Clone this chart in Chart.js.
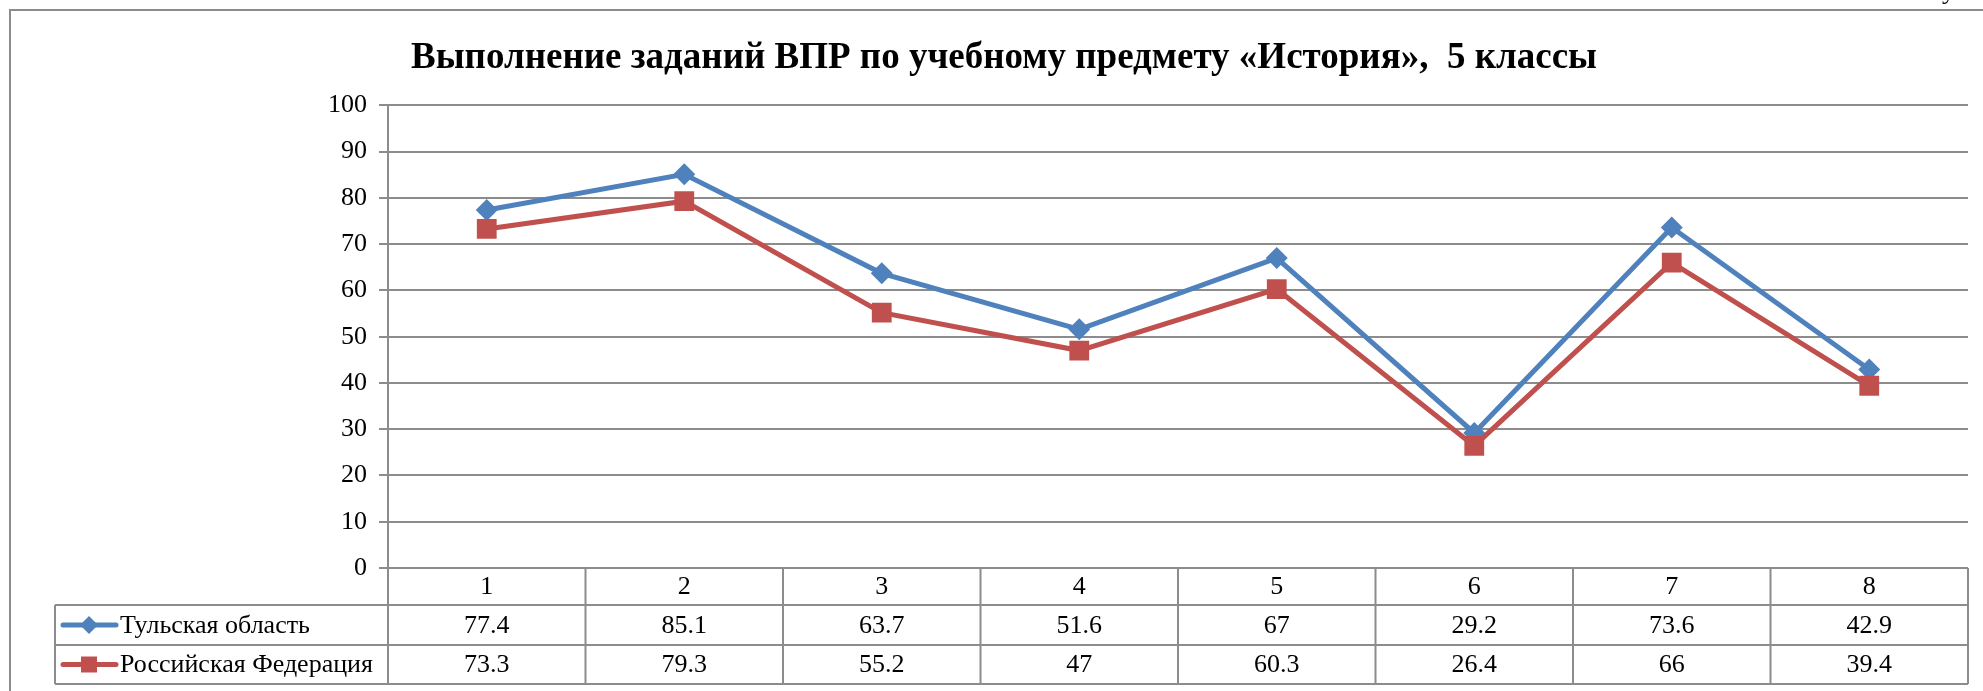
<!DOCTYPE html>
<html>
<head>
<meta charset="utf-8">
<script src="https://cdn.jsdelivr.net/npm/chart.js@4/dist/chart.umd.min.js"></script>
<style>
  html, body { margin: 0; padding: 0; background: #fff; overflow: hidden; }
  #wrap { position: relative; width: 1983px; height: 691px; overflow: hidden; }
  #corner { position: absolute; left: 1942px; top: -24px; font: 26px "Liberation Serif"; color: #000; }
</style>
</head>
<body>
<div id="wrap">
  <canvas id="chartCanvas" width="1983" height="691"></canvas>
  <span id="corner">у</span>
</div>
<script>
const categories = ['1', '2', '3', '4', '5', '6', '7', '8'];
const seriesNames = ['Тульская область', 'Российская Федерация'];
const tulaValues = [77.4, 85.1, 63.7, 51.6, 67, 29.2, 73.6, 42.9];
const russiaValues = [73.3, 79.3, 55.2, 47, 60.3, 26.4, 66, 39.4];
const yMin = 0;
const yMax = 100;
const yStep = 10;

const blue = '#4F81BD';
const red = '#C0504D';
const gridColor = '#8c8c8c';
const serif = '"Liberation Serif", "Times New Roman", serif';

// outer frame of the Word chart object
const framePlugin = {
  id: 'frame',
  beforeDraw(chart) {
    const ctx = chart.ctx;
    ctx.save();
    ctx.strokeStyle = gridColor;
    ctx.lineWidth = 2;
    ctx.beginPath();
    ctx.moveTo(10, chart.height);
    ctx.lineTo(10, 10);
    ctx.lineTo(chart.width, 10);
    ctx.stroke();
    ctx.restore();
  }
};

function drawMarker(ctx, style, x, y, size, color) {
  ctx.fillStyle = color;
  ctx.beginPath();
  if (style === 'diamond') {
    ctx.moveTo(x - size, y);
    ctx.lineTo(x, y - size);
    ctx.lineTo(x + size, y);
    ctx.lineTo(x, y + size);
    ctx.closePath();
  } else {
    ctx.rect(x - size, y - size, size * 2, size * 2);
  }
  ctx.fill();
}

// data table under the plot (legend keys + values)
const tablePlugin = {
  id: 'dataTable',
  afterDraw(chart) {
    const { ctx, chartArea } = chart;
    const xScale = chart.scales.x;
    const n = categories.length;
    const step = (chartArea.right - chartArea.left) / n;
    const top = chartArea.bottom;
    const r1 = top + 37, r2 = r1 + 40, r3 = r2 + 39;
    const legendLeft = 55;

    ctx.save();
    ctx.strokeStyle = gridColor;
    ctx.lineWidth = 2;
    ctx.beginPath();
    [r1, r2, r3].forEach(y => {
      ctx.moveTo(legendLeft, y);
      ctx.lineTo(chartArea.right, y);
    });
    ctx.moveTo(legendLeft, r1);
    ctx.lineTo(legendLeft, r3);
    for (let i = 0; i <= n; i++) {
      const xx = chartArea.left + i * step;
      ctx.moveTo(xx, top);
      ctx.lineTo(xx, r3);
    }
    ctx.stroke();

    const rows = [
      { vals: tulaValues, name: seriesNames[0], color: blue, marker: 'diamond', size: 9, cy: (r1 + r2) / 2 },
      { vals: russiaValues, name: seriesNames[1], color: red, marker: 'square', size: 8, cy: (r2 + r3) / 2 }
    ];
    rows.forEach(row => {
      ctx.fillStyle = '#000';
      ctx.font = '26px ' + serif;
      ctx.textAlign = 'center';
      ctx.textBaseline = 'middle';
      row.vals.forEach((v, i) => {
        ctx.fillText(String(v), xScale.getPixelForValue(i), row.cy + 1);
      });
      // legend key
      ctx.strokeStyle = row.color;
      ctx.lineWidth = 5;
      ctx.lineCap = 'round';
      ctx.beginPath();
      ctx.moveTo(63, row.cy);
      ctx.lineTo(116, row.cy);
      ctx.stroke();
      drawMarker(ctx, row.marker, 89, row.cy, row.size, row.color);
      ctx.fillStyle = '#000';
      ctx.textAlign = 'left';
      ctx.fillText(row.name, 120, row.cy + 1);
    });
    ctx.restore();
  }
};

const chart = new Chart(document.getElementById('chartCanvas'), {
  type: 'line',
  data: {
    labels: categories,
    datasets: [{
      label: seriesNames[0],
      data: tulaValues,
      borderColor: blue,
      backgroundColor: blue,
      borderWidth: 5,
      pointStyle: 'rectRot',
      pointRadius: 11,
      pointHoverRadius: 11,
      pointBorderWidth: 0,
      tension: 0,
      order: 2
    }, {
      label: seriesNames[1],
      data: russiaValues,
      borderColor: red,
      backgroundColor: red,
      borderWidth: 5,
      pointStyle: 'rect',
      pointRadius: 14,
      pointHoverRadius: 14,
      pointBorderWidth: 0,
      tension: 0,
      order: 1
    }]
  },
  options: {
    responsive: false,
    animation: false,
    layout: { padding: { left: 40, right: 15, top: 0, bottom: 0 } },
    plugins: {
      legend: { display: false },
      tooltip: { enabled: false },
      title: {
        display: true,
        text: 'Выполнение заданий ВПР по учебному предмету «История»,  5 классы',
        color: '#000',
        font: { family: serif, size: 37, weight: 'bold' },
        padding: { top: 36, bottom: 25 }
      }
    },
    scales: {
      x: {
        offset: true,
        grid: { display: false, offset: true },
        border: { display: false },
        ticks: { color: '#000', font: { family: serif, size: 26 }, padding: -4 },
        afterFit(scale) { scale.height = 123; }
      },
      y: {
        min: yMin,
        max: yMax,
        ticks: { stepSize: yStep, color: '#000', font: { family: serif, size: 26 }, padding: 12 },
        grid: { color: gridColor, lineWidth: 2, tickLength: 9 },
        border: { color: gridColor, width: 2 },
        afterFit(scale) { scale.width = 348; }
      }
    }
  },
  plugins: [framePlugin, tablePlugin]
});
</script>
</body>
</html>
